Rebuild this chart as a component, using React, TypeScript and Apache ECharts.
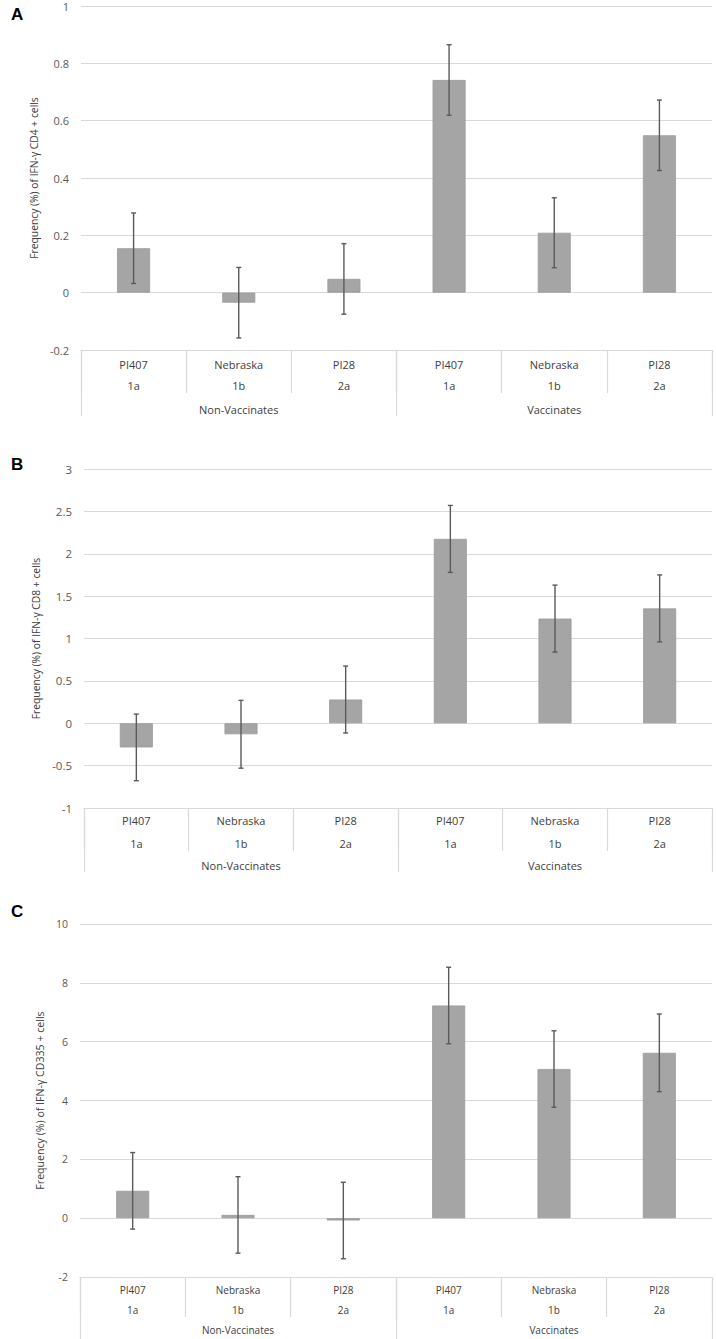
import React, { useEffect, useRef } from "react";
import * as echarts from "echarts";

const strains = ["PI407", "Nebraska", "PI28", "PI407", "Nebraska", "PI28"];
const subtypes = ["1a", "1b", "2a", "1a", "1b", "2a"];
const groups = ["Non-Vaccinates", "Vaccinates"];

const cd4Means = [0.155, -0.035, 0.048, 0.742, 0.209, 0.549];
const cd4Err = [0.123, 0.123, 0.123, 0.123, 0.122, 0.123];

const cd8Means = [-0.285, -0.13, 0.28, 2.175, 1.235, 1.355];
const cd8Err = [0.393, 0.4, 0.395, 0.395, 0.395, 0.395];

const cd335Means = [0.93, 0.11, -0.08, 7.23, 5.07, 5.62];
const cd335Err = [1.3, 1.3, 1.3, 1.3, 1.3, 1.32];

const FONT = "'Open Sans', sans-serif";

type Panel = {
  letter: string;
  letterY: number;
  name: string;
  means: number[];
  errs: number[];
  min: number;
  max: number;
  interval: number;
  left: number;
  top: number;
  height: number;
  nameGap: number;
  nameFont: number;
  tickFont: number;
  catFont: number;
  catLineHeight: number;
  catMargin: number;
  innerTick: number;
  outerTick: number;
  groupMargin: number;
};

const panels: Panel[] = [
  {
    letter: "A", letterY: 6, name: "Frequency (%) of IFN-γ CD4 + cells",
    means: cd4Means, errs: cd4Err, min: -0.2, max: 1, interval: 0.2,
    left: 81, top: 6, height: 344, nameGap: 38, nameFont: 10.3, tickFont: 11, catFont: 11,
    catLineHeight: 21, catMargin: 4, innerTick: 43, outerTick: 66, groupMargin: 52,
  },
  {
    letter: "B", letterY: 456, name: "Frequency (%) of IFN-γ CD8 + cells",
    means: cd8Means, errs: cd8Err, min: -1, max: 3, interval: 0.5,
    left: 84, top: 469, height: 339, nameGap: 42, nameFont: 10.3, tickFont: 11.5, catFont: 11,
    catLineHeight: 23, catMargin: 1, innerTick: 43, outerTick: 64, groupMargin: 50,
  },
  {
    letter: "C", letterY: 903, name: "Frequency (%) of IFN-γ CD335 + cells",
    means: cd335Means, errs: cd335Err, min: -2, max: 10, interval: 2,
    left: 80, top: 924, height: 353, nameGap: 30, nameFont: 10.6, tickFont: 10.5, catFont: 10,
    catLineHeight: 20, catMargin: 3, innerTick: 40, outerTick: 64, groupMargin: 46,
  },
];

function buildOption() {
  const grid: any[] = [];
  const xAxis: any[] = [];
  const yAxis: any[] = [];
  const series: any[] = [];
  const graphic: any[] = [];

  panels.forEach((p, i) => {
    grid.push({ left: p.left, right: 4, top: p.top, height: p.height, containLabel: false });
    xAxis.push({
      type: "category",
      gridIndex: i,
      position: "bottom",
      data: strains,
      axisLine: { show: true, onZero: false, lineStyle: { color: "#d9d9d9", width: 1.2 } },
      axisTick: { show: true, interval: 0, length: p.innerTick, lineStyle: { color: "#d9d9d9", width: 1.2 } },
      splitLine: { show: false },
      axisLabel: {
        interval: 0,
        margin: p.catMargin,
        color: "#404040",
        fontFamily: FONT,
        fontSize: p.catFont,
        lineHeight: p.catLineHeight,
        formatter: (v: string, idx: number) => `${v}\n${subtypes[idx]}`,
      },
    });
    xAxis.push({
      type: "category",
      gridIndex: i,
      position: "bottom",
      data: groups,
      axisLine: { show: false, onZero: false },
      axisTick: { show: true, interval: 0, length: p.outerTick, lineStyle: { color: "#d9d9d9", width: 1.2 } },
      splitLine: { show: false },
      axisLabel: {
        interval: 0,
        margin: p.groupMargin,
        color: "#404040",
        fontFamily: FONT,
        fontSize: p.catFont,
        lineHeight: 14,
      },
    });
    yAxis.push({
      type: "value",
      gridIndex: i,
      min: p.min,
      max: p.max,
      interval: p.interval,
      name: p.name,
      nameLocation: "middle",
      nameRotate: 90,
      nameGap: p.nameGap,
      nameTextStyle: { color: "#404040", fontFamily: FONT, fontSize: p.nameFont },
      axisLine: { show: false },
      axisTick: { show: false },
      splitLine: { show: true, lineStyle: { color: "#d9d9d9", width: 1.2 } },
      axisLabel: { color: "#595959", fontFamily: FONT, fontSize: p.tickFont, margin: 12 },
    });
    series.push({
      type: "bar",
      xAxisIndex: 2 * i,
      yAxisIndex: i,
      data: p.means,
      barWidth: 33,
      itemStyle: { color: "#a5a5a5", borderColor: "#9a9a9a", borderWidth: 0.8 },
    });
    series.push({
      type: "custom",
      xAxisIndex: 2 * i,
      yAxisIndex: i,
      data: p.means.map((m, k) => [k, m - p.errs[k], m + p.errs[k]]),
      encode: { x: 0, y: [1, 2] },
      z: 5,
      renderItem: (params: any, api: any) => {
        const x = api.value(0);
        const lo = api.coord([x, api.value(1)]);
        const hi = api.coord([x, api.value(2)]);
        const hw = 2.5;
        const st = { stroke: "#5a5a5a", lineWidth: 1.4 };
        return {
          type: "group",
          children: [
            { type: "line", shape: { x1: hi[0], y1: hi[1], x2: lo[0], y2: lo[1] }, style: st },
            { type: "line", shape: { x1: hi[0] - hw, y1: hi[1], x2: hi[0] + hw, y2: hi[1] }, style: st },
            { type: "line", shape: { x1: lo[0] - hw, y1: lo[1], x2: lo[0] + hw, y2: lo[1] }, style: st },
          ],
        };
      },
    });
    graphic.push({
      type: "text",
      left: 11,
      top: p.letterY,
      style: { text: p.letter, fill: "#000", font: "bold 17px 'Liberation Sans', Arial, sans-serif" },
    });
  });

  return { animation: false, backgroundColor: "#ffffff", grid, xAxis, yAxis, series, graphic };
}

export default function App() {
  const ref = useRef<HTMLDivElement>(null);
  useEffect(() => {
    if (!ref.current) return;
    const chart = echarts.init(ref.current, undefined, { renderer: "svg" });
    chart.setOption(buildOption() as any);
    return () => chart.dispose();
  }, []);
  return (
    <div
      ref={ref}
      style={{ position: "absolute", left: 0, top: 0, width: 716, height: 1339, background: "#fff" }}
    />
  );
}
